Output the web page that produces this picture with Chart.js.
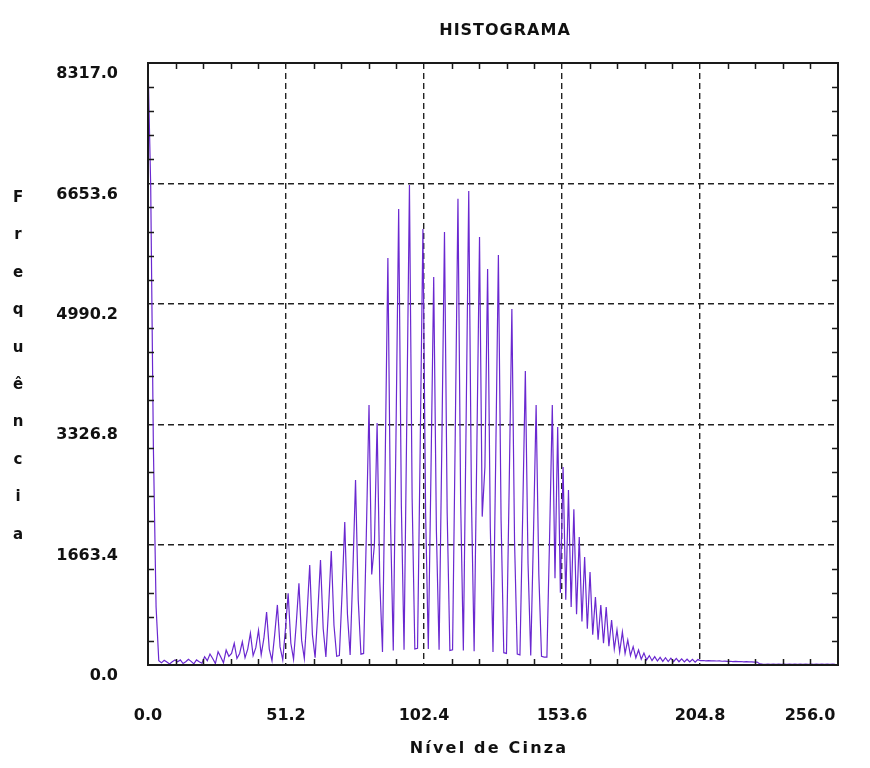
<!DOCTYPE html>
<html>
<head>
<meta charset="utf-8">
<script src="https://cdn.jsdelivr.net/npm/chart.js@4"></script>
<style>
  html, body { margin: 0; padding: 0; background: #ffffff; }
  #wrap { position: relative; width: 870px; height: 768px; background: #ffffff; }
  canvas { position: absolute; left: 0; top: 0; }
  .t { position: absolute; font-family: "DejaVu Sans", sans-serif; font-weight: bold; color: #111; white-space: nowrap; text-align: center; }
  #title { left: 385px; width: 240px; top: 20px; font-size: 16px; line-height: 20px; letter-spacing: 1px; }
  #xtitle { left: 369px; width: 240px; top: 738px; font-size: 16px; line-height: 20px; letter-spacing: 2.2px; }
  #ytitle { left: 8px; width: 20px; top: 179px; font-size: 15px; line-height: 37.4px; }
</style>
</head>
<body>
<div id="wrap">
  <canvas id="c" width="870" height="768"></canvas>
  <div class="t" id="title">HISTOGRAMA</div>
  <div class="t" id="xtitle">Nível de Cinza</div>
  <div class="t" id="ytitle">F<br>r<br>e<br>q<br>u<br>ê<br>n<br>c<br>i<br>a</div>
</div>
<script>
// ---- data ----
const levels = Array.from({ length: 256 }, (_, i) => i);   // gray levels 0..255
const freq = [
  8317, 6620, 3000, 800, 60, 30, 65, 40, 15, 45, 70, 45, 70, 20, 45, 80,
  50, 15, 70, 45, 25, 115, 60, 152, 90, 20, 184, 110, 30, 207, 120, 160,
  300, 90, 160, 320, 100, 220, 440, 130, 240, 480, 140, 370, 730, 220, 60, 420,
  830, 250, 70, 500, 990, 300, 80, 570, 1130, 340, 90, 690, 1380, 420, 100, 730,
  1450, 500, 110, 790, 1575, 550, 120, 130, 990, 1975, 700, 140, 1280, 2556, 900, 150,
  160, 1800, 3592, 1250, 1660, 3343, 1150, 180, 2800, 5622, 1950, 200, 3150, 6300, 2200, 210,
  3343, 6632, 2300, 220, 230, 3050, 6024, 2100, 220, 2700, 5360, 1850, 210, 2998, 5982, 2100,
  200, 210, 3205, 6440, 2250, 200, 3275, 6549, 2300, 190, 2970, 5913, 2050, 2735, 5471, 1900,
  180, 2832, 5665, 2000, 170, 160, 2459, 4918, 1700, 150, 140, 2045, 4062, 1400, 130, 1768,
  3592, 1250, 120, 110, 110, 1768, 3592, 1200, 3288, 1000, 2736, 900, 2418, 800, 2150, 700,
  1768, 600, 1492, 500, 1285, 420, 940, 350, 830, 300, 800, 260, 622, 220, 484, 180,
  456, 160, 345, 130, 253, 100, 207, 80, 166, 70, 130, 60, 115, 55, 105, 50,
  100, 48, 95, 46, 90, 45, 85, 44, 80, 42, 78, 40, 75, 60, 62, 58,
  60, 56, 58, 55, 56, 52, 54, 50, 52, 48, 50, 46, 48, 44, 46, 42,
  44, 40, 40, 15, 12, 10, 12, 10, 12, 10, 11, 10, 12, 10, 11, 10,
  12, 10, 11, 10, 12, 10, 11, 10, 12, 10, 11, 10, 12, 10, 11, 10
];
const xTickValues = [0, 51.2, 102.4, 153.6, 204.8, 256];
const xTickLabels = ['0.0', '51.2', '102.4', '153.6', '204.8', '256.0'];
const yTickValues = [0, 1663.4, 3326.8, 4990.2, 6653.6, 8317];
const yTickLabels = ['0.0', '1663.4', '3326.8', '4990.2', '6653.6', '8317.0'];

const tickFont = { family: 'DejaVu Sans', size: 16, weight: 'bold' };

// frame + inward minor ticks on all four sides
const framePlugin = {
  id: 'frame',
  afterDraw(chart) {
    const { ctx, chartArea: a } = chart;
    const xs = chart.scales.x, ys = chart.scales.y;
    ctx.save();
    ctx.strokeStyle = '#1a1a1a';
    ctx.lineWidth = 1.5;
    ctx.setLineDash([]);
    ctx.beginPath();
    for (let k = 0; k < xTickValues.length - 1; k++) {
      const step = (xTickValues[k + 1] - xTickValues[k]) / 5;
      for (let j = 1; j < 5; j++) {
        const px = Math.round(xs.getPixelForValue(xTickValues[k] + j * step)) + 0.5;
        ctx.moveTo(px, a.top); ctx.lineTo(px, a.top + 6);
        ctx.moveTo(px, a.bottom); ctx.lineTo(px, a.bottom - 6);
      }
    }
    for (let k = 0; k < yTickValues.length - 1; k++) {
      const step = (yTickValues[k + 1] - yTickValues[k]) / 5;
      for (let j = 1; j < 5; j++) {
        const py = Math.round(ys.getPixelForValue(yTickValues[k] + j * step)) + 0.5;
        ctx.moveTo(a.left, py); ctx.lineTo(a.left + 6, py);
        ctx.moveTo(a.right, py); ctx.lineTo(a.right - 6, py);
      }
    }
    ctx.stroke();
    ctx.lineWidth = 2;
    ctx.strokeRect(a.left, a.top, a.right - a.left, a.bottom - a.top);
    ctx.restore();
  }
};

new Chart(document.getElementById('c'), {
  type: 'line',
  data: {
    datasets: [{
      data: levels.map((x, i) => ({ x: x, y: freq[i] })),
      borderColor: '#6a28d0',
      borderWidth: 1.2,
      pointRadius: 0,
      tension: 0,
      fill: false
    }]
  },
  options: {
    responsive: false,
    animation: false,
    devicePixelRatio: 1,
    layout: { padding: { top: 63, right: 32, bottom: 0, left: 0 } },
    plugins: { legend: { display: false }, tooltip: { enabled: false }, title: { display: false } },
    scales: {
      x: {
        type: 'linear', min: 0, max: 256,
        afterBuildTicks: s => { s.ticks = xTickValues.map(v => ({ value: v })); },
        afterFit: s => { s.height = 103; s.paddingLeft = 0; s.paddingRight = 0; },
        ticks: {
          autoSkip: false, maxRotation: 0, minRotation: 0, padding: 41,
          color: '#111', font: tickFont,
          callback: (v, i) => xTickLabels[i] + (i === xTickLabels.length - 1 ? '\u2002\u2002\u2002\u2002\u2002\u2002\u2002' : '')
        },
        grid: { color: '#222', lineWidth: 1.4, drawTicks: false },
        border: { display: false, dash: [6, 4] }
      },
      y: {
        type: 'linear', min: 0, max: 8317,
        afterBuildTicks: s => { s.ticks = yTickValues.map(v => ({ value: v })); },
        afterFit: s => { s.width = 148; s.paddingTop = 0; s.paddingBottom = 0; },
        ticks: {
          autoSkip: false, padding: 30, labelOffset: 11,
          color: '#111', font: tickFont,
          callback: (v, i) => yTickLabels[i]
        },
        grid: { color: '#222', lineWidth: 1.4, drawTicks: false },
        border: { display: false, dash: [6, 4] }
      }
    }
  },
  plugins: [framePlugin]
});
</script>
</body>
</html>
